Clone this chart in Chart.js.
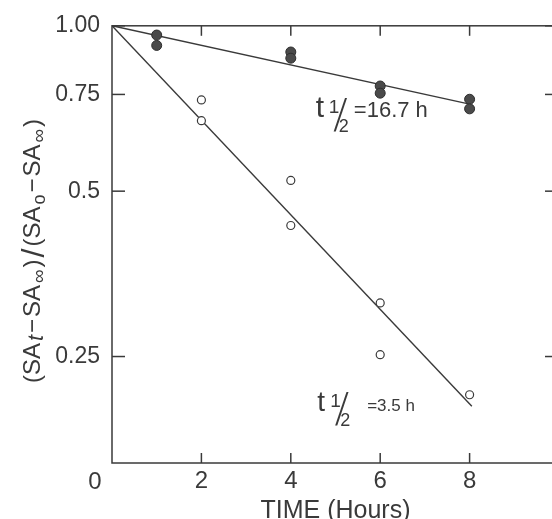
<!DOCTYPE html>
<html><head><meta charset="utf-8">
<script src="https://cdn.jsdelivr.net/npm/chart.js@4.4.0/dist/chart.umd.min.js"></script>
<style>html,body{margin:0;padding:0;overflow:hidden;background:#fff}canvas{display:block}</style>
</head><body>
<canvas id="c" width="580" height="530"></canvas>
<script>
// ---- data ----
const slowHours  = [1, 1, 4, 4, 6, 6, 8, 8];
const slowValues = [0.962, 0.921, 0.896, 0.873, 0.777, 0.754, 0.735, 0.706];
const fastHours  = [2, 2, 4, 4, 6, 6, 8];
const fastValues = [0.733, 0.672, 0.523, 0.433, 0.313, 0.252, 0.213];
const slowFitHours  = [0, 8];
const slowFitValues = [1.0, 0.72];
const fastFitHours  = [0, 8.05];
const fastFitValues = [1.0, 0.203];
const xTicks = [2, 4, 6, 8];
const yTicks = [1.0, 0.75, 0.5, 0.25];
const yTickLabels = ['1.00', '0.75', '0.5', '0.25'];
const originLabel = '0';
const xTitle = 'TIME (Hours)';
const slowHalfLife = '=16.7 h';
const fastHalfLife = '=3.5 h';

// ---- styling / placement ----
const INK = '#3a3a3a';
const FAM = "'Liberation Sans', Arial, sans-serif";
const slowLabelAt = {x: 4.56, y: 0.681};
const fastLabelAt = {x: 4.59, y: 0.199};

const pts = (xs, ys) => xs.map((x, i) => ({x: x, y: ys[i]}));

function line(ctx, x1, y1, x2, y2) { ctx.beginPath(); ctx.moveTo(x1, y1); ctx.lineTo(x2, y2); ctx.stroke(); }

function drawHalfLife(ctx, x, y, tSize, valText, valSize, valGap) {
  ctx.save();
  ctx.fillStyle = INK;
  ctx.textAlign = 'left';
  ctx.textBaseline = 'alphabetic';
  ctx.font = tSize + 'px ' + FAM;
  ctx.fillText('t', x, y);
  ctx.font = '19px ' + FAM;
  ctx.fillText('1', x + 13, y - 4);
  ctx.font = '18px ' + FAM;
  ctx.fillText('2', x + 23, y + 15);
  ctx.save();
  ctx.translate(x + 18, y + 14);
  ctx.transform(1, 0, -0.32, 1.75, 0, 0);
  ctx.font = '26px ' + FAM;
  ctx.fillText('/', 0, 0);
  ctx.restore();
  ctx.font = valSize + 'px ' + FAM;
  ctx.fillText(valText, x + valGap, y);
  ctx.restore();
}

function drawYTitle(ctx, cx, cy) {
  const base = 24;
  const segs = [
    ['(SA', 1, 0, false], ['t', 0.9, 3, true], ['\u2212', 1, 0, false], ['SA', 1, 0, false],
    ['\u221E', 0.8, 5, false], [')', 1, 0, false], ['/', 1.35, 4, false], ['(SA', 1, 0, false],
    ['o', 0.75, 5, false], ['\u2212', 1, 0, false], ['SA', 1, 0, false], ['\u221E', 0.8, 5, false], [')', 1, 0, false]
  ];
  ctx.save();
  ctx.translate(cx, cy);
  ctx.rotate(-Math.PI / 2);
  ctx.fillStyle = INK;
  ctx.textBaseline = 'alphabetic';
  ctx.textAlign = 'left';
  const gap = 2;
  let total = 0;
  const widths = segs.map(s => {
    ctx.font = (s[3] ? 'italic ' : '') + Math.round(base * s[1]) + 'px ' + FAM;
    const w = ctx.measureText(s[0]).width;
    total += w + gap;
    return w;
  });
  let x = -total / 2;
  segs.forEach((s, i) => {
    ctx.font = (s[3] ? 'italic ' : '') + Math.round(base * s[1]) + 'px ' + FAM;
    ctx.fillText(s[0], x, s[2]);
    x += widths[i] + gap;
  });
  ctx.restore();
}

const framePlugin = {
  id: 'frame',
  afterDraw(chart) {
    const ctx = chart.ctx;
    const {left, right, top, bottom} = chart.chartArea;
    const xs = chart.scales.x, ys = chart.scales.y;
    ctx.save();
    ctx.strokeStyle = INK;
    ctx.lineWidth = 1.5;
    ctx.strokeRect(left, top, right - left, bottom - top);
    xs.ticks.forEach(t => {
      const px = xs.getPixelForValue(t.value);
      line(ctx, px, bottom, px, bottom - 10);
      line(ctx, px, top, px, top + 10);
    });
    ys.ticks.forEach(t => {
      const py = ys.getPixelForValue(t.value);
      line(ctx, left, py, left + 13, py);
      line(ctx, right, py, right - 14, py);
    });
    ctx.fillStyle = INK;
    ctx.font = '24px ' + FAM;
    ctx.textAlign = 'center';
    ctx.textBaseline = 'middle';
    ctx.fillText(originLabel, left - 17, bottom + 19);
    ctx.restore();

    drawYTitle(ctx, 40, 250);
    drawHalfLife(ctx, xs.getPixelForValue(slowLabelAt.x), ys.getPixelForValue(slowLabelAt.y), 30, slowHalfLife, 22, 38);
    drawHalfLife(ctx, xs.getPixelForValue(fastLabelAt.x), ys.getPixelForValue(fastLabelAt.y), 28, fastHalfLife, 17, 50);
  }
};

new Chart(document.getElementById('c').getContext('2d'), {
  type: 'scatter',
  data: {
    datasets: [
      {label: 'slow fit', data: pts(slowFitHours, slowFitValues), showLine: true, borderColor: INK, borderWidth: 1.4, pointRadius: 0, order: 2},
      {label: 'fast fit', data: pts(fastFitHours, fastFitValues), showLine: true, borderColor: INK, borderWidth: 1.4, pointRadius: 0, order: 2},
      {label: 'slow', data: pts(slowHours, slowValues), showLine: false, pointRadius: 5, pointBackgroundColor: '#4a4a4a', pointBorderColor: '#2e2e2e', pointBorderWidth: 1, order: 0},
      {label: 'fast', data: pts(fastHours, fastValues), showLine: false, pointRadius: 4, pointBackgroundColor: '#ffffff', pointBorderColor: INK, pointBorderWidth: 1.2, order: 0}
    ]
  },
  options: {
    responsive: false,
    animation: false,
    devicePixelRatio: 1,
    layout: {padding: {top: 20, right: 21, bottom: 0, left: 0}},
    plugins: {legend: {display: false}, tooltip: {enabled: false}},
    scales: {
      x: {
        type: 'linear', min: 0, max: 10,
        afterBuildTicks: s => { s.ticks = xTicks.map(v => ({value: v})); },
        afterFit: s => { s.height = 67; },
        grid: {display: false, drawTicks: false}, border: {display: false},
        ticks: {padding: 4, color: INK, font: {family: FAM, size: 24}, maxRotation: 0, autoSkip: false},
        title: {display: true, text: xTitle, color: INK, font: {family: FAM, size: 25}, padding: {top: 0, bottom: 4}}
      },
      y: {
        type: 'logarithmic', min: 0.16, max: 1,
        afterBuildTicks: s => { s.ticks = yTicks.map(v => ({value: v})); },
        afterFit: s => { s.width = 112; },
        grid: {display: false, drawTicks: false}, border: {display: false},
        ticks: {padding: 12, color: INK, font: {family: FAM, size: 23}, autoSkip: false,
          callback: (v) => { const i = yTicks.indexOf(v); return i >= 0 ? yTickLabels[i] : ''; }}
      }
    }
  },
  plugins: [framePlugin]
});
</script>
</body></html>
